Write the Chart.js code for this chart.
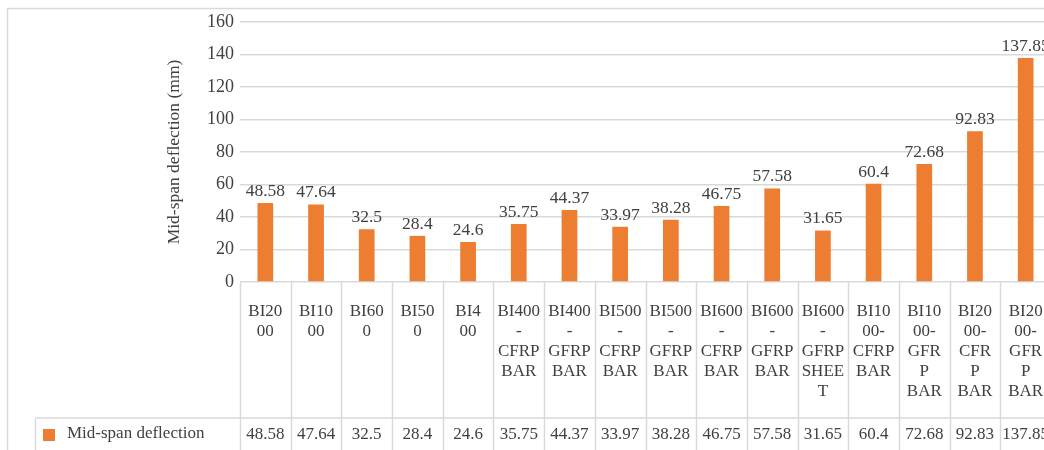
<!DOCTYPE html>
<html>
<head>
<meta charset="utf-8">
<script src="https://cdn.jsdelivr.net/npm/chart.js@4.4.0/dist/chart.umd.min.js"></script>
<style>
    html, body { margin: 0; padding: 0; background: #fff; overflow: hidden; }
    #wrap { width: 1060px; height: 450px; }
</style>
</head>
<body>
<div id="wrap"><canvas id="deflectionChart" width="1060" height="450"></canvas></div>
<script>
// Specimen names, wrapped the way the data table shows them
const categories = [
    ['BI20', '00'], ['BI10', '00'], ['BI60', '0'], ['BI50', '0'], ['BI4', '00'],
    ['BI400', '-', 'CFRP', 'BAR'], ['BI400', '-', 'GFRP', 'BAR'],
    ['BI500', '-', 'CFRP', 'BAR'], ['BI500', '-', 'GFRP', 'BAR'],
    ['BI600', '-', 'CFRP', 'BAR'], ['BI600', '-', 'GFRP', 'BAR'],
    ['BI600', '-', 'GFRP', 'SHEE', 'T'],
    ['BI10', '00-', 'CFRP', 'BAR'], ['BI10', '00-', 'GFR', 'P', 'BAR'],
    ['BI20', '00-', 'CFR', 'P', 'BAR'], ['BI20', '00-', 'GFR', 'P', 'BAR']
];
const deflection = [48.58, 47.64, 32.5, 28.4, 24.6, 35.75, 44.37, 33.97, 38.28, 46.75, 57.58, 31.65, 60.4, 72.68, 92.83, 137.85];
const yTicks = [0, 20, 40, 60, 80, 100, 120, 140, 160];
const seriesName = 'Mid-span deflection';

const FONT = 'Liberation Serif, Times New Roman, serif';
const TEXT = '#404040';
const LINE = '#d9d9d9';
const ORANGE = '#ED7D31';

// Value labels above each bar
const barLabels = {
    id: 'barLabels',
    afterDatasetsDraw(chart) {
        const ctx = chart.ctx;
        const meta = chart.getDatasetMeta(0);
        ctx.save();
        ctx.font = '17.5px ' + FONT;
        ctx.fillStyle = TEXT;
        ctx.textAlign = 'center';
        ctx.textBaseline = 'bottom';
        meta.data.forEach((bar, i) => {
            ctx.fillText(String(deflection[i]), bar.x, bar.y - 3);
        });
        ctx.restore();
    }
};

// Excel-style data table under the plot, plus the outer chart border
const dataTable = {
    id: 'dataTable',
    afterDraw(chart) {
        const ctx = chart.ctx;
        const area = chart.chartArea;
        const x = chart.scales.x;
        const n = categories.length;
        const step = (x.right - x.left) / n;
        const top = area.bottom;
        const rowY = top + 136;
        const bottom = chart.height;

        ctx.save();
        ctx.strokeStyle = LINE;
        ctx.lineWidth = 1.5;
        ctx.strokeRect(7.5, 8.5, chart.width + 20, chart.height + 20);

        ctx.lineWidth = 1.5;
        ctx.beginPath();
        for (let i = 0; i <= n; i++) {
            const bx = Math.round(x.left + i * step) + 0.5;
            ctx.moveTo(bx, top);
            ctx.lineTo(bx, bottom);
        }
        ctx.moveTo(35.5, rowY);
        ctx.lineTo(x.right, rowY);
        ctx.moveTo(35.5, rowY);
        ctx.lineTo(35.5, bottom);
        ctx.stroke();

        ctx.fillStyle = TEXT;
        ctx.textAlign = 'center';
        ctx.textBaseline = 'middle';
        categories.forEach((lines, i) => {
            const cx = x.getPixelForValue(i);
            ctx.font = '17px ' + FONT;
            lines.forEach((t, j) => ctx.fillText(t, cx, top + 30 + j * 20));
            ctx.fillText(String(deflection[i]), cx, rowY + 17);
        });

        // legend key inside the table row
        ctx.fillStyle = ORANGE;
        ctx.fillRect(43, rowY + 11, 12, 12);
        ctx.fillStyle = TEXT;
        ctx.textAlign = 'left';
        ctx.font = '17px ' + FONT;
        ctx.fillText(seriesName, 67, rowY + 16);
        ctx.restore();
    }
};

new Chart(document.getElementById('deflectionChart'), {
    type: 'bar',
    data: {
        labels: categories.map(c => c.join('')),
        datasets: [{
            label: seriesName,
            data: deflection,
            backgroundColor: ORANGE,
            borderWidth: 0,
            barPercentage: 0.31,
            categoryPercentage: 1
        }]
    },
    options: {
        responsive: false,
        animation: false,
        devicePixelRatio: 1,
        layout: { padding: { left: 164, top: 22, right: 9, bottom: 168 } },
        plugins: {
            legend: { display: false },
            tooltip: { enabled: false }
        },
        scales: {
            x: { display: false },
            y: {
                min: 0,
                max: 160,
                afterFit(scale) { scale.width = 76; },
                afterBuildTicks(scale) { scale.ticks = yTicks.map(v => ({ value: v })); },
                border: { display: false },
                grid: { color: LINE, lineWidth: 1.5, drawTicks: false },
                ticks: {
                    padding: 6,
                    color: TEXT,
                    font: { family: FONT, size: 18 }
                },
                title: {
                    display: true,
                    text: 'Mid-span deflection (mm)',
                    color: TEXT,
                    padding: 0,
                    font: { family: FONT, size: 17.5 }
                }
            }
        }
    },
    plugins: [barLabels, dataTable]
});
</script>
</body>
</html>
